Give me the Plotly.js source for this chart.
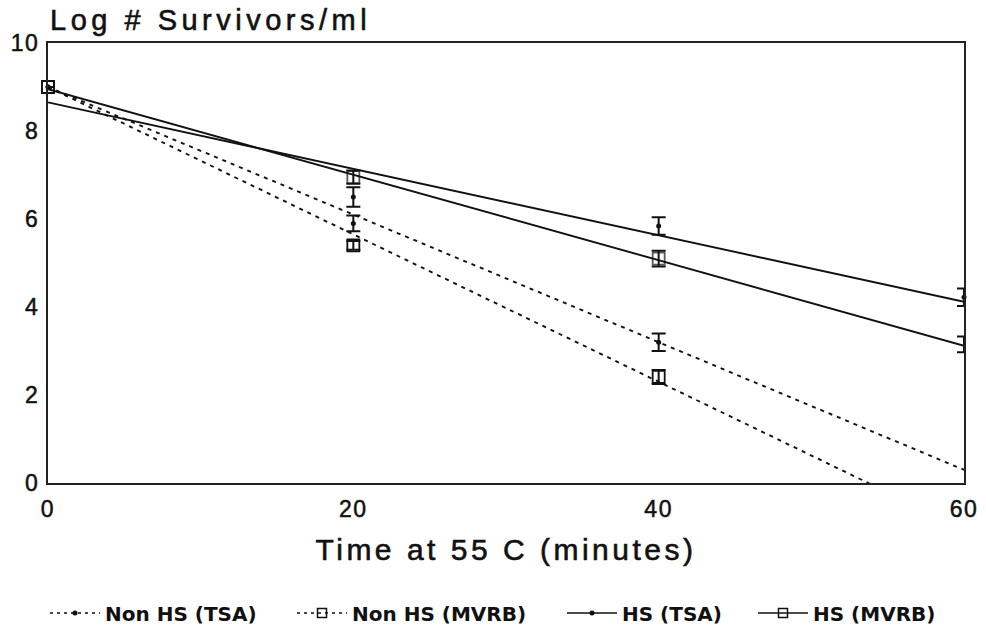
<!DOCTYPE html>
<html>
<head>
<meta charset="utf-8">
<script src="https://cdn.plot.ly/plotly-3.0.1.min.js"></script>
<style>
  html, body { margin: 0; padding: 0; background: #fff; }
  #chart { width: 986px; height: 627px; }
  .gtitle { letter-spacing: 4.5px; stroke: #111; stroke-width: 0.6px; }
  .xtitle { letter-spacing: 3.5px; stroke: #111; stroke-width: 0.6px; }
  .xtick text, .ytick text { letter-spacing: 1.5px; stroke: #111; stroke-width: 0.5px; }
</style>
</head>
<body>
<div id="chart"></div>
<script>
// ---- data ----
const timePts = [0, 20, 40, 60];

const nonHsTsa      = [9.0, 5.90, 3.20, null];
const nonHsTsaErr   = [0, 0.18, 0.20, 0];
const nonHsMvrb     = [9.0, 5.40, 2.41, null];
const nonHsMvrbErr  = [0, 0.10, 0.16, 0];
const hsTsa         = [9.0, 6.50, 5.84, 4.22];
const hsTsaErr      = [0, 0.22, 0.20, 0.20];
const hsMvrb        = [9.0, 6.95, 5.10, 3.15];
const hsMvrbErr     = [0, 0.15, 0.18, 0.18];

// fitted regression lines (endpoints at t = 0 and t = 60)
const fitTime       = [0, 60];
const fitNonHsTsa   = [9.0, 0.30];
const fitNonHsMvrb  = [9.0, -1.05];
const fitHsTsa      = [8.65, 4.12];
const fitHsMvrb     = [8.95, 3.12];

const seriesNames = ['Non HS (TSA)', 'Non HS (MVRB)', 'HS (TSA)', 'HS (MVRB)'];
const xTicks = [0, 20, 40, 60];
const yTicks = [0, 2, 4, 6, 8, 10];

// ---- styles ----
const FONT = 'Liberation Sans, Arial, Helvetica, sans-serif';
const LEGEND_FONT = 'DejaVu Sans, Liberation Sans, Arial, sans-serif';
const dashStyle = '4px,5px';
const dotMarker = { symbol: 'circle', size: 5, color: '#111' };
const sqMarker  = { symbol: 'square-open', size: 12, color: '#111', line: { width: 1.8, color: '#111' } };
// the square at the right edge (t = 60) is not drawn in the reference
const sqMarkerNoEdge = Object.assign({}, sqMarker, { size: [12, 12, 12, 0] });
const sqLegend = Object.assign({}, sqMarker, { size: 9, line: { width: 1.5, color: '#111' } });

function errBars(arr) {
  return { type: 'data', array: arr, visible: true, color: '#111', thickness: 2, width: 7 };
}

const styles = [
  { dash: dashStyle, marker: dotMarker,      legendMarker: dotMarker, legend: 'legend',  left: 45 },
  { dash: dashStyle, marker: sqMarker,       legendMarker: sqLegend,  legend: 'legend2', left: 292 },
  { dash: 'solid',   marker: dotMarker,      legendMarker: dotMarker, legend: 'legend3', left: 562 },
  { dash: 'solid',   marker: sqMarkerNoEdge, legendMarker: sqLegend,  legend: 'legend4', left: 753 }
];
const pointSets = [
  [nonHsTsa, nonHsTsaErr],
  [nonHsMvrb, nonHsMvrbErr],
  [hsTsa, hsTsaErr],
  [hsMvrb, hsMvrbErr]
];
const fitSets = [fitNonHsTsa, fitNonHsMvrb, fitHsTsa, fitHsMvrb];

const traces = [];
for (let i = 0; i < 4; i++) {
  // fitted line
  traces.push({
    type: 'scatter', mode: 'lines', x: fitTime, y: fitSets[i],
    line: { color: '#111', width: 1.9, dash: styles[i].dash },
    showlegend: false, hoverinfo: 'skip'
  });
  // data points with error bars
  traces.push({
    type: 'scatter', mode: 'markers', x: timePts, y: pointSets[i][0],
    marker: styles[i].marker, error_y: errBars(pointSets[i][1]),
    cliponaxis: false, showlegend: false
  });
  // legend entry (line + marker)
  traces.push({
    type: 'scatter', mode: 'lines+markers', x: [null], y: [null],
    name: seriesNames[i], legend: styles[i].legend,
    line: { color: '#111', width: 1.5, dash: styles[i].dash === 'solid' ? 'solid' : '3px,4px' },
    marker: styles[i].legendMarker,
    showlegend: true
  });
}

function legendAt(xPx) {
  return {
    x: xPx / 986, xref: 'container', xanchor: 'left',
    y: 1 - 613 / 627, yref: 'container', yanchor: 'middle',
    orientation: 'h', bgcolor: 'rgba(0,0,0,0)', borderwidth: 0,
    itemwidth: 50,
    font: { family: LEGEND_FONT, size: 20, color: '#111', weight: 'bold' }
  };
}

const layout = {
  width: 986, height: 627,
  paper_bgcolor: '#fff', plot_bgcolor: '#fff',
  margin: { l: 48, r: 22, t: 43, b: 144, pad: 0 },
  font: { family: FONT, color: '#111' },
  title: {
    text: 'Log # Survivors/ml',
    x: 50 / 986, xanchor: 'left', xref: 'container',
    y: 1 - 20 / 627, yanchor: 'middle', yref: 'container',
    font: { family: FONT, size: 29, color: '#111' }
  },
  xaxis: {
    range: [0, 60], tickvals: xTicks, ticktext: xTicks.map(String),
    showgrid: false, zeroline: false, ticks: '',
    showline: true, mirror: true, linecolor: '#222', linewidth: 2,
    tickfont: { family: FONT, size: 23, color: '#111' },
    ticklabelstandoff: 4,
    title: { text: 'Time at 55 C (minutes)', standoff: 18, font: { family: FONT, size: 30, color: '#111' } }
  },
  yaxis: {
    range: [0, 10], tickvals: yTicks, ticktext: yTicks.map(String),
    showgrid: false, zeroline: false, ticks: '',
    showline: true, mirror: true, linecolor: '#222', linewidth: 2,
    tickfont: { family: FONT, size: 23, color: '#111' },
    ticklabelstandoff: 2
  },
  showlegend: true
};
styles.forEach(function (s) { layout[s.legend] = legendAt(s.left); });

Plotly.newPlot('chart', traces, layout, { displayModeBar: false, staticPlot: true });
</script>
</body>
</html>
